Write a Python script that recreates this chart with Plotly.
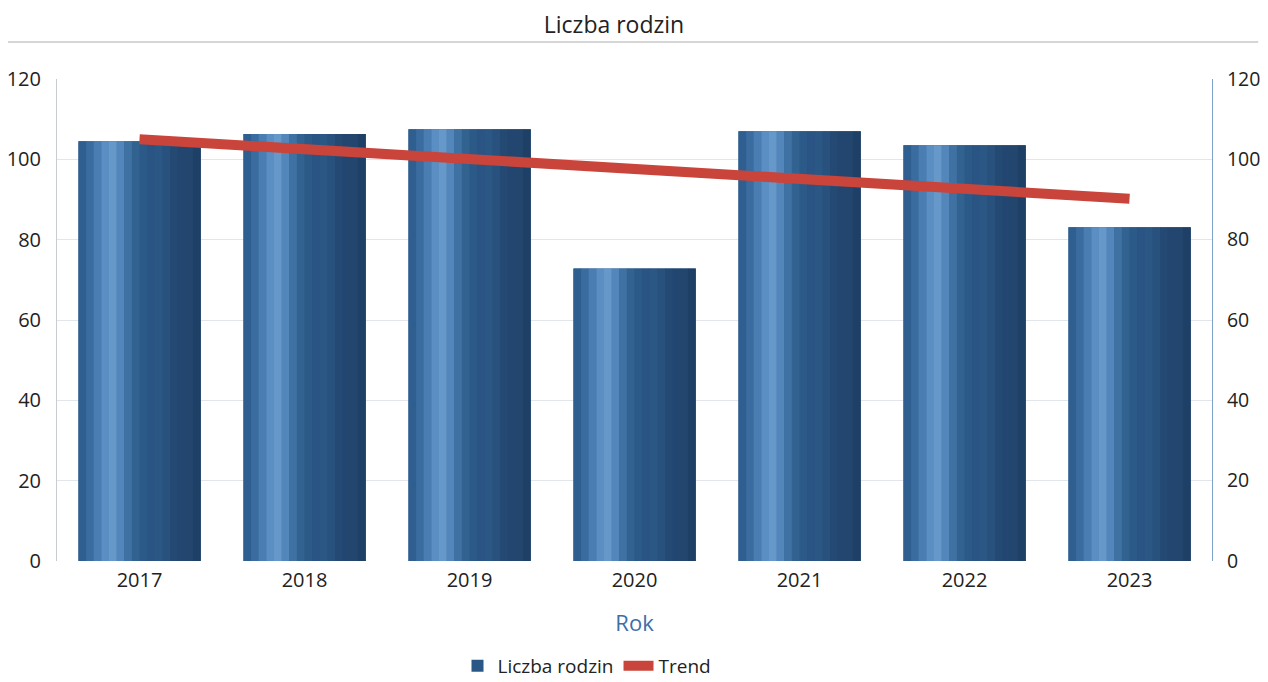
import plotly.graph_objects as go

years = ["2017", "2018", "2019", "2020", "2021", "2022", "2023"]
families = [104.5, 106.3, 107.5, 72.8, 107.0, 103.5, 83.1]
trend = [105.0, 102.5, 100.0, 97.6, 95.1, 92.6, 90.2]
y_ticks = [0, 20, 40, 60, 80, 100, 120]

# page body adds an 8px offset; compensate in margins
OFF = 8

fig = go.Figure()

fig.add_trace(go.Bar(x=years, y=families, name="Liczba rodzin", width=0.74,
                     marker=dict(color="#2a5786", line=dict(width=0)),
                     legendrank=1))
stripe_colors = ["#2f5f90", "#3a6c9f", "#4a7eb3", "#5b8fc3", "#6698c9", "#5387bb",
                 "#3f71a3", "#32628f", "#2c5a88", "#295483", "#2b5784", "#28517d",
                 "#244a74", "#22466f", "#22466d", "#1e3f66"]
n = len(stripe_colors)
sw = 0.74 / n
for i, c in enumerate(stripe_colors):
    fig.add_trace(go.Bar(x=years, y=families, width=sw + 0.002, offset=-0.37 + i * sw,
                         marker=dict(color=c, line=dict(width=0)),
                         showlegend=False, hoverinfo="skip"))

fig.add_trace(go.Scatter(x=years, y=trend, name="Trend", mode="lines",
                         line=dict(color="#c9443a", width=10), yaxis="y2",
                         legendrank=2))

fig.update_layout(
    width=1268, height=682,
    barmode="overlay",
    plot_bgcolor="white", paper_bgcolor="white",
    margin=dict(l=57 - OFF, r=56 + OFF, t=79 - OFF, b=121 + OFF),
    font=dict(family="Open Sans, DejaVu Sans, sans-serif", size=20, color="#222222"),
    title=dict(text="Liczba rodzin", xref="container", x=(614 - OFF) / 1268, xanchor="center",
               yref="container", y=1 - (25 - OFF) / 682, yanchor="middle",
               font=dict(size=23, color="#222222")),
    xaxis=dict(type="category", showgrid=False, ticks="", showline=False, automargin=False,
               ticklabelstandoff=5,
               title=dict(text="Rok", font=dict(size=22, color="#3b6fa8"), standoff=23),
               tickfont=dict(size=20)),
    yaxis=dict(range=[0, 120], tickvals=y_ticks, showgrid=True, gridcolor="#e2e6ea",
               zeroline=False, showline=True, linecolor="#c8ccd0", linewidth=1,
               automargin=False,
               ticks="", ticklabelstandoff=11, tickfont=dict(size=20)),
    yaxis2=dict(range=[0, 120], tickvals=y_ticks, overlaying="y", side="right",
                showgrid=False, zeroline=False, showline=True, linecolor="#7fa3c8",
                linewidth=1, ticks="", ticklabelstandoff=10, automargin=False,
                tickfont=dict(size=19.5)),
    legend=dict(orientation="h", xref="container", x=(587 - OFF) / 1268, xanchor="center",
                yref="container", y=1 - (666 - OFF) / 682, yanchor="middle",
                font=dict(size=19), traceorder="normal"),
    shapes=[dict(type="line", xref="paper", yref="paper", x0=-0.045, x1=1.04,
                 y0=1 + 37 / 482, y1=1 + 37 / 482, line=dict(color="#d6d6d6", width=2))],
)

fig.write_html("out.html")
